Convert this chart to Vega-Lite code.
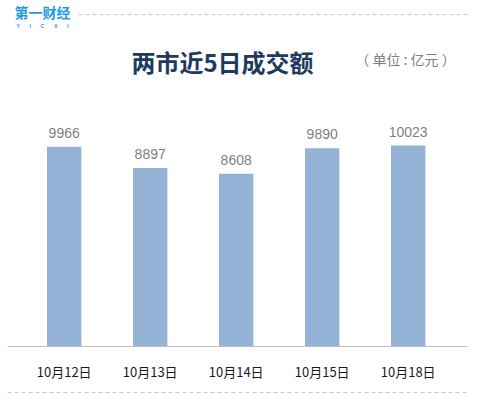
{
  "$schema": "https://vega.github.io/schema/vega-lite/v6.json",
  "width": 460,
  "height": 240,
  "autosize": {"type": "none"},
  "padding": {"left": 7, "top": 106, "right": 24, "bottom": 56},
  "background": "white",
  "config": {"view": {"stroke": null}, "font": "Noto Sans CJK SC"},
  "data": {
    "values": [
      {"date": "10月12日", "value": 9966},
      {"date": "10月13日", "value": 8897},
      {"date": "10月14日", "value": 8608},
      {"date": "10月15日", "value": 9890},
      {"date": "10月18日", "value": 10023}
    ]
  },
  "layer": [
    {
      "encoding": {
        "x": {
          "field": "date",
          "type": "nominal",
          "sort": null,
          "scale": {"paddingInner": 0.6, "paddingOuter": 0.4744, "align": 0.49},
          "axis": {
            "orient": "bottom",
            "offset": 46,
            "domainColor": "#c8c8c8",
            "domainDash": [4, 3],
            "domainWidth": 1,
            "ticks": false,
            "labelPadding": -20,
            "labelBaseline": "middle",
            "labelAngle": 0,
            "labelFontSize": 13,
            "labelColor": "#1a1a1a",
            "labelFont": "Noto Sans CJK SC",
            "title": "第一财经",
            "titleFont": "Noto Sans CJK SC",
            "titleFontSize": 14,
            "titleFontWeight": "bold",
            "titleColor": "#1E9BE0",
            "titleX": 35,
            "titleY": -379,
            "titleAlign": "center",
            "titleBaseline": "middle",
            "titleAngle": 0
          }
        },
        "y": {
          "field": "value",
          "type": "quantitative",
          "scale": {"domain": [0, 12000], "nice": false},
          "axis": {
            "orient": "left",
            "domain": false,
            "ticks": false,
            "labels": false,
            "grid": true,
            "values": [0],
            "gridColor": "#bfbfbf",
            "gridDash": [],
            "gridWidth": 1,
            "title": "（ 单位 : 亿元 ）",
            "titleFont": "Noto Sans CJK SC",
            "titleFontSize": 14,
            "titleFontWeight": "normal",
            "titleColor": "#7f7f7f",
            "titleX": 398,
            "titleY": -46,
            "titleAngle": 0,
            "titleAlign": "center",
            "titleBaseline": "middle"
          }
        }
      },
      "layer": [
        {"mark": {"type": "bar", "color": "#95B3D7"}},
        {
          "mark": {
            "type": "text",
            "baseline": "alphabetic",
            "dy": -9,
            "fontSize": 14,
            "font": "Liberation Sans",
            "color": "#7f7f7f"
          },
          "encoding": {"text": {"field": "value", "type": "quantitative", "format": "d"}}
        }
      ]
    },
    {
      "mark": {"type": "point", "opacity": 0},
      "encoding": {
        "x": {
          "field": "date",
          "type": "nominal",
          "sort": null,
          "scale": {"range": [71, 460]},
          "axis": {
            "orient": "top",
            "offset": 92,
            "domainColor": "#c8c8c8",
            "domainDash": [4, 3],
            "domainWidth": 1,
            "ticks": false,
            "labels": false,
            "grid": false,
            "title": "两市近5日成交额",
            "titleFont": "Noto Sans CJK SC",
            "titleFontSize": 24,
            "titleFontWeight": "bold",
            "titleColor": "#1f3a5f",
            "titleX": 215,
            "titleY": 50,
            "titleAlign": "center",
            "titleBaseline": "middle",
            "titleAngle": 0
          }
        },
        "y": {
          "field": "value",
          "type": "quantitative",
          "axis": {
            "orient": "right",
            "domain": false,
            "ticks": false,
            "labels": false,
            "grid": false,
            "title": "Y\u00a0\u00a0\u00a0\u00a0\u00a0\u00a0\u00a0I\u00a0\u00a0\u00a0\u00a0\u00a0\u00a0\u00a0C\u00a0\u00a0\u00a0\u00a0\u00a0\u00a0\u00a0A\u00a0\u00a0\u00a0\u00a0\u00a0\u00a0\u00a0I",
            "titleFont": "Liberation Sans",
            "titleFontSize": 5,
            "titleFontWeight": "bold",
            "titleColor": "#1E9BE0",
            "titleX": -425,
            "titleY": -81,
            "titleAngle": 0,
            "titleAlign": "center",
            "titleBaseline": "middle"
          }
        }
      }
    }
  ],
  "resolve": {
    "scale": {"x": "independent", "y": "independent"},
    "axis": {"x": "independent", "y": "independent"}
  }
}
